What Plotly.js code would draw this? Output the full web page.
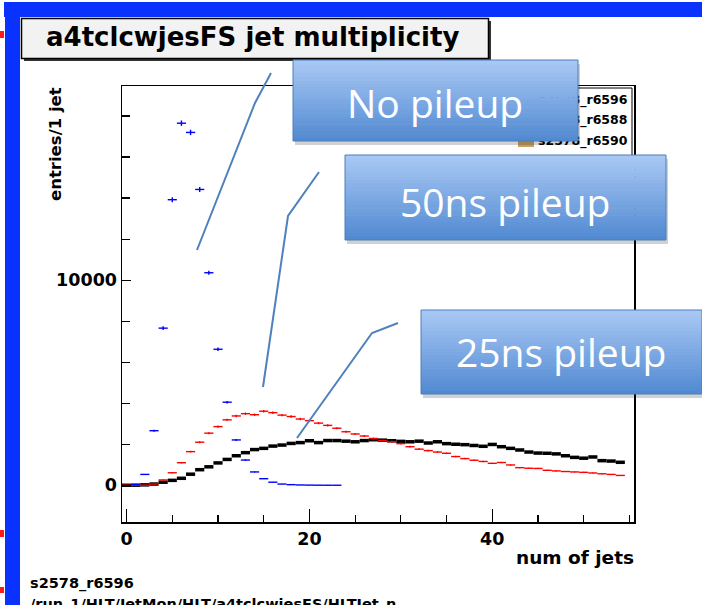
<!DOCTYPE html>
<html><head><meta charset="utf-8">
<script src="https://cdn.plot.ly/plotly-3.0.1.min.js"></script>
<style>html,body{margin:0;padding:0;background:#fff;}#chart{width:702px;height:605px;}</style>
</head><body><div id="chart"></div>
<script>
// ---------- data ----------
const jetBins = [0,1,2,3,4,5,6,7,8,9,10,11,12,13,14,15,16,17,18,19,20,21,22,23,24,25,26,27,28,29,30,31,32,33,34,35,36,37,38,39,40,41,42,43,44,45,46,47,48,49,50,51,52,53,54];
const blueBins = [1,2,3,4,5,6,7,8,9,10,11,12,13,14,15,16,17,18,19,20,21,22,23];
const noPileup = [30,530,2660,7660,13920,17650,17200,14420,10360,6630,4050,2210,1230,650,320,150,60,30,15,8,4,2,1];
const pileup50ns = [0,0,5,60,260,610,1100,1640,2100,2540,2860,3190,3380,3490,3440,3610,3540,3420,3350,3230,3150,3030,2920,2780,2610,2500,2400,2280,2180,2120,2030,1880,1760,1690,1620,1560,1400,1300,1220,1160,1070,1110,990,860,830,820,730,700,670,650,630,600,560,530,480];
const pileup25ns = [0,5,20,60,150,240,340,540,760,900,1090,1260,1440,1590,1740,1800,1910,1960,2040,2080,2170,2080,2180,2180,2150,2120,2180,2220,2200,2170,2140,2120,2150,2060,2120,2030,2000,1980,1940,1900,1990,1880,1800,1720,1620,1570,1560,1530,1440,1360,1320,1380,1200,1180,1120];
const legendLabels = ["s2578_r6596","s2578_r6588","s2578_r6590"];
const calloutLabels = ["No pileup","50ns pileup","25ns pileup"];
const xTickVals = [0,20,40];
const yTickVals = [0,10000];
const titleText = "a4tclcwjesFS jet multiplicity";
const xTitle = "num of jets";
const yTitle = "entries/1 jet";
const footer1 = "s2578_r6596";
const footer2 = "/run_1/HLT/JetMon/HLT/a4tclcwjesFS/HLTJet_n";

// ---------- geometry helpers (pixel -> paper) ----------
const PL=122, PR=634, PT=86, PB=522;
function X(p){return (p-PL)/(PR-PL);}
function Y(p){return (PB-p)/(PB-PT);}

function histTrace(x, y, color, thx, thy){
  return {x:x, y:y, type:'scatter', mode:'markers', marker:{size:0.1, color:color, opacity:0},
    error_x:{type:'constant', value:0.5, width:0, thickness:thx, color:color},
    error_y:{type:'sqrt', width:0, thickness:thy, color:color},
    hoverinfo:'skip', showlegend:false, cliponaxis:true};
}
const traces = [
  histTrace(jetBins, pileup25ns, '#000000', 3.5, 2.5),
  histTrace(jetBins, pileup50ns, '#ff0000', 1.4, 1.4),
  histTrace(blueBins, noPileup, '#0000ff', 1.4, 1.4),
  {x:[X(538),X(538),X(538)], y:[Y(101),Y(121),Y(142)], xaxis:'x2', yaxis:'y2', type:'scatter', mode:'text',
   text:legendLabels, textposition:'middle right', cliponaxis:false,
   textfont:{family:'DejaVu Sans', size:12.5, color:'#000', weight:'bold'}, hoverinfo:'skip', showlegend:false}
];

// ---------- decorations ----------
const shapes = [];
function rect(x0,y0,x1,y1,fill,line,lw){
  shapes.push({type:'rect', xref:'paper', yref:'paper', layer:'above', x0:X(x0), x1:X(x1), y0:Y(y1), y1:Y(y0),
    fillcolor:fill, line:{color:line||'rgba(0,0,0,0)', width:lw||0}});
}
function path(pts,color,w){
  let d = pts.map((p,i)=>(i?'L':'M')+X(p[0])+','+Y(p[1])).join(' ');
  shapes.push({type:'path', xref:'paper', yref:'paper', layer:'above', path:d, line:{color:color, width:w}});
}
// slide border
rect(4,2,702,17,'#0a32ff');
rect(5,2,20,605,'#0a32ff');
rect(0,31,4,38,'#ff1a1a');
rect(0,530,4,537,'#ff1a1a');
rect(0,587,4,593,'#ff1a1a');
// title box
rect(24,21,491,61,'#333333');
rect(21.5,18.5,488.5,58.5,'#f2f2f2','#000000',1.5);
// legend box (right edge visible; the rest is hidden by the callouts)
path([[560,88],[632,88],[632,157],[560,157]],'#000000',1);
rect(518,139,534,147,'#c8a064');
// connectors
path([[197,250],[255,103],[271,73]],'#4f81bd',2);
path([[263,387],[288,216],[319,172]],'#4f81bd',2);
path([[297,438],[372,333],[398,323]],'#4f81bd',2);
// callouts with vertical gradient
const callBoxes = [[293,60,578,141],[345,155,666,240],[421,310,702,394]];
const gradTop=[168,200,244], gradBot=[82,138,210];
callBoxes.forEach(b=>{
  rect(b[0]+2,b[1]+4,b[2]+2,b[3]+4,'rgba(0,0,0,0.18)');
  const N=24, h=(b[3]-b[1])/N;
  for(let i=0;i<N;i++){
    const t=i/(N-1);
    const c='rgb('+gradTop.map((v,k)=>Math.round(v+(gradBot[k]-v)*t)).join(',')+')';
    rect(b[0], b[1]+i*h, b[2], Math.min(b[3], b[1]+(i+1)*h+0.6), c);
  }
  rect(b[0],b[1],b[2],b[3],'rgba(0,0,0,0)','#4a7ebb',1);
});

const bold = (s)=>({family:'DejaVu Sans', size:s, color:'#000', weight:'bold'});
const annotations = [
  {text:titleText, xref:'paper', yref:'paper', x:X(44), y:Y(37), xanchor:'left', yanchor:'middle', showarrow:false, font:bold(26)},
  {text:yTitle, xref:'paper', yref:'paper', x:X(55), y:Y(85), xanchor:'center', yanchor:'top', textangle:-90, showarrow:false, font:bold(16.5)},
  {text:xTitle, xref:'paper', yref:'paper', x:X(636), y:Y(557), xanchor:'right', yanchor:'middle', showarrow:false, font:bold(18.5)},
  {text:footer1, xref:'paper', yref:'paper', x:X(28), y:Y(583), xanchor:'left', yanchor:'middle', showarrow:false, font:bold(14.5)},
  {text:footer2, xref:'paper', yref:'paper', x:X(28), y:Y(594), xanchor:'left', yanchor:'top', showarrow:false, font:bold(14.5)}
];
const calloutCenters = [[435,102],[505,201],[561,351]];
calloutLabels.forEach((t,i)=>{
  annotations.push({text:t, xref:'paper', yref:'paper', x:X(calloutCenters[i][0]), y:Y(calloutCenters[i][1]),
    xanchor:'center', yanchor:'middle', showarrow:false, font:{family:'Open Sans', size:39, color:'#ffffff'}});
});

const axisFont = {family:'DejaVu Sans', size:17.5, color:'#000', weight:'bold'};
const layout = {
  width:702, height:605, margin:{l:PL, r:702-PR, t:PT, b:605-PB, pad:0},
  paper_bgcolor:'#ffffff', plot_bgcolor:'#ffffff', showlegend:false,
  xaxis:{range:[-0.5,55.5], tickmode:'array', tickvals:xTickVals, ticks:'inside', ticklen:13, tickwidth:1.2, tickcolor:'#000',
    showline:true, linecolor:'#000', linewidth:1.5, mirror:true, showgrid:false, zeroline:false, tickfont:axisFont,
    minor:{tick0:0, dtick:5, ticks:'inside', ticklen:7, tickwidth:1.2, tickcolor:'#000', showgrid:false}},
  yaxis:{range:[-1790,19463], tickmode:'array', tickvals:yTickVals, tickformat:'d', ticks:'inside', ticklen:9, tickwidth:1.2, tickcolor:'#000',
    showline:true, linecolor:'#000', linewidth:1.5, mirror:true, showgrid:false, zeroline:false, tickfont:axisFont,
    minor:{tick0:0, dtick:2000, ticks:'inside', ticklen:8, tickwidth:1.2, tickcolor:'#000', showgrid:false}},
  xaxis2:{overlaying:'x', anchor:'y2', range:[0,1], visible:false, fixedrange:true},
  yaxis2:{overlaying:'y', anchor:'x2', range:[0,1], visible:false, fixedrange:true},
  shapes:shapes, annotations:annotations
};
Plotly.newPlot('chart', traces, layout, {staticPlot:true, displayModeBar:false});
</script></body></html>
